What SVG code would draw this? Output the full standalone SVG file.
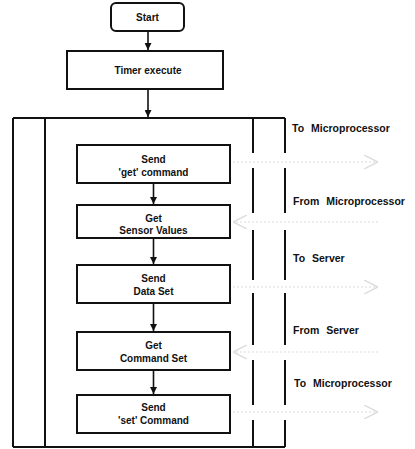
<svg xmlns="http://www.w3.org/2000/svg" width="415" height="449" viewBox="0 0 415 449">
<defs>
<style>
.box{fill:#fff;stroke:#111;stroke-width:2}
.t{font-family:"Liberation Sans",Arial,sans-serif;font-weight:bold;font-size:10px;fill:#111;text-anchor:middle}
.lbl{font-family:"Liberation Sans",Arial,sans-serif;font-weight:bold;font-size:10.5px;fill:#111;word-spacing:4px}
.ln{stroke:#111;stroke-width:1.6;fill:none}
.fr{stroke:#111;stroke-width:2;fill:none}
.faint{stroke:#dcdcdc;stroke-width:1.2;fill:none;stroke-dasharray:2 2}
</style>
<marker id="ah" viewBox="0 0 10 10" refX="10" refY="5" markerWidth="7" markerHeight="7" markerUnits="userSpaceOnUse" orient="auto">
<path d="M0,0 L10,5 L0,10 z" fill="#111"/>
</marker>
<marker id="fa" viewBox="0 0 10 10" refX="10" refY="5" markerWidth="14" markerHeight="14" markerUnits="userSpaceOnUse" orient="auto">
<path d="M0,0 L10,5 L0,10" fill="none" stroke="#dcdcdc" stroke-width="1"/>
</marker>
</defs>

<g id="frame">
<path class="fr" d="M13,118 H285 M13,447 H285 M13,118 V447 M45,118 V447"/>
<path class="fr" d="M253,118 V153 M253,168 V213 M253,230 V280 M253,293 V345 M253,360 V405 M253,420 V447"/>
<path class="fr" d="M285,118 V153 M285,168 V213 M285,230 V280 M285,293 V345 M285,360 V405 M285,420 V447"/>
</g>

<g id="start"><rect class="box" x="111" y="3" width="73" height="28" rx="5"/><text class="t" x="147.5" y="20.5">Start</text></g>
<g id="timer"><rect class="box" x="67" y="51" width="156" height="38"/><text class="t" x="148" y="73.5">Timer execute</text></g>

<g id="send-get"><rect class="box" x="77" y="145" width="153" height="38"/><text class="t" x="153.5" y="163">Send</text><text class="t" x="153.5" y="175.5">'get' command</text></g>
<g id="get-sensor"><rect class="box" x="77" y="205" width="153" height="33"/><text class="t" x="153.5" y="221.5">Get</text><text class="t" x="153.5" y="234">Sensor Values</text></g>
<g id="send-data"><rect class="box" x="77" y="265" width="153" height="38"/><text class="t" x="153.5" y="281.5">Send</text><text class="t" x="153.5" y="295">Data Set</text></g>
<g id="get-command"><rect class="box" x="77" y="332" width="153" height="38"/><text class="t" x="153.5" y="349">Get</text><text class="t" x="153.5" y="362">Command Set</text></g>
<g id="send-set"><rect class="box" x="77" y="395" width="153" height="38"/><text class="t" x="153.5" y="411">Send</text><text class="t" x="153.5" y="424">'set' Command</text></g>

<g id="labels">
<text class="lbl" x="292" y="131.5">To Microprocessor</text>
<text class="lbl" x="293" y="204.5">From Microprocessor</text>
<text class="lbl" x="293" y="261.5">To Server</text>
<text class="lbl" x="293" y="333.5">From Server</text>
<text class="lbl" x="294" y="386.5">To Microprocessor</text>
</g>

<g id="connectors">
<line class="ln" x1="148" y1="31" x2="148" y2="50" marker-end="url(#ah)"/>
<line class="ln" x1="148" y1="89" x2="148" y2="117" marker-end="url(#ah)"/>
<line class="ln" x1="153.5" y1="183" x2="153.5" y2="204" marker-end="url(#ah)"/>
<line class="ln" x1="153.5" y1="238" x2="153.5" y2="264" marker-end="url(#ah)"/>
<line class="ln" x1="153.5" y1="303" x2="153.5" y2="331" marker-end="url(#ah)"/>
<line class="ln" x1="153.5" y1="370" x2="153.5" y2="394" marker-end="url(#ah)"/>
<line class="faint" x1="233" y1="162" x2="378" y2="162" marker-end="url(#fa)"/>
<line class="faint" x1="378" y1="222" x2="233" y2="222" marker-end="url(#fa)"/>
<line class="faint" x1="233" y1="287" x2="378" y2="287" marker-end="url(#fa)"/>
<line class="faint" x1="378" y1="352" x2="233" y2="352" marker-end="url(#fa)"/>
<line class="faint" x1="233" y1="412" x2="378" y2="412" marker-end="url(#fa)"/>
</g>
</svg>
